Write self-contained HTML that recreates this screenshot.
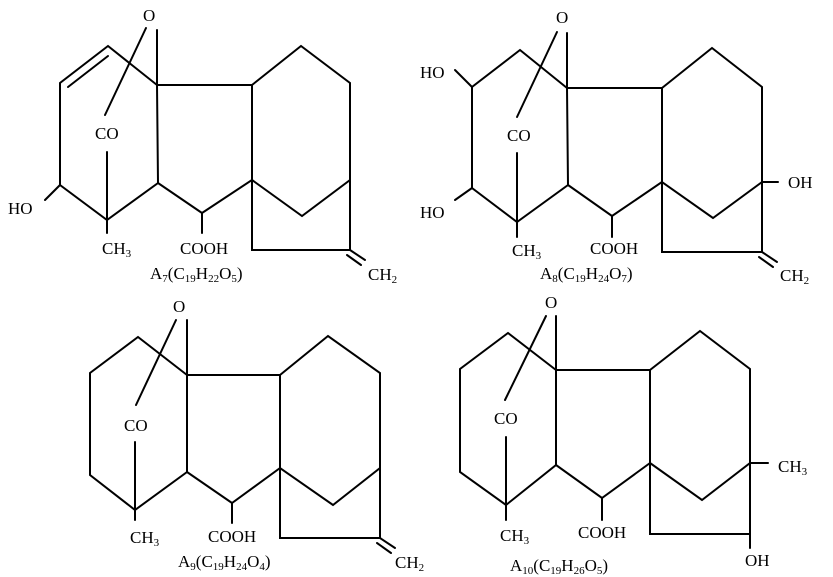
<!DOCTYPE html>
<html><head><meta charset="utf-8"><style>
html,body{margin:0;padding:0;background:#fff;}
svg{display:block;}
text{font-family:"Liberation Serif",serif;font-size:17px;fill:#000;}
.s{font-size:11px;}
</style></head><body>
<svg width="833" height="577" viewBox="0 0 833 577" xmlns="http://www.w3.org/2000/svg">
<g stroke="#000" stroke-width="2" fill="none" stroke-linecap="round">
<!-- A7 -->
<line x1="146" y1="28" x2="105" y2="115"/>
<line x1="157" y1="30" x2="157" y2="85"/>
<polyline points="157,85 108,46 60,83 60,185 107,220 158,183 157,85 252,85 252,180 202,213 158,183"/>
<line x1="68" y1="87" x2="108" y2="56"/>
<line x1="45" y1="200" x2="60" y2="185"/>
<line x1="107" y1="152" x2="107" y2="233"/>
<line x1="202" y1="213" x2="202" y2="233"/>
<polyline points="252,85 301,46 350,83 350,180 302,216 252,180 252,250 350,250 350,180"/>
<line x1="350" y1="250" x2="365" y2="260"/>
<line x1="347" y1="255" x2="361" y2="265"/>
<!-- A8 -->
<line x1="557" y1="32" x2="517" y2="117"/>
<line x1="567" y1="33" x2="567" y2="88"/>
<polyline points="567,88 520,50 472,87 472,188 517,222 568,185 567,88 662,88 662,182 612,216 568,185"/>
<line x1="455" y1="70" x2="472" y2="87"/>
<line x1="455" y1="200" x2="472" y2="188"/>
<line x1="517" y1="153" x2="517" y2="237"/>
<line x1="612" y1="216" x2="612" y2="237"/>
<polyline points="662,88 712,48 762,87 762,182 713,218 662,182 662,252 762,252 762,182"/>
<line x1="762" y1="182" x2="778" y2="182"/>
<line x1="762" y1="252" x2="777" y2="262"/>
<line x1="759" y1="257" x2="773" y2="267"/>
<!-- A9 -->
<line x1="176" y1="320" x2="136" y2="405"/>
<line x1="187" y1="320" x2="187" y2="375"/>
<polyline points="187,375 138,337 90,373 90,475 135,510 187,472 187,375 280,375 280,468 232,503 187,472"/>
<line x1="135" y1="442" x2="135" y2="520"/>
<line x1="232" y1="503" x2="232" y2="523"/>
<polyline points="280,375 328,336 380,373 380,468 333,505 280,468 280,538 380,538 380,468"/>
<line x1="380" y1="538" x2="395" y2="548"/>
<line x1="377" y1="543" x2="391" y2="553"/>
<!-- A10 -->
<line x1="546" y1="316" x2="505" y2="400"/>
<line x1="556" y1="316" x2="556" y2="370"/>
<polyline points="556,370 508,333 460,369 460,472 506,505 556,465 556,370 650,370 650,463 602,498 556,465"/>
<line x1="506" y1="437" x2="506" y2="520"/>
<line x1="602" y1="498" x2="602" y2="520"/>
<polyline points="650,370 700,331 750,369 750,463 702,500 650,463 650,534 750,534 750,463"/>
<line x1="750" y1="463" x2="768" y2="463"/>
<line x1="750" y1="534" x2="750" y2="548"/>
</g>
<!-- A7 text -->
<text x="143" y="21">O</text>
<text x="95" y="139">CO</text>
<text x="8" y="214">HO</text>
<text x="102" y="254">CH<tspan class="s" dy="3">3</tspan></text>
<text x="180" y="254">COOH</text>
<text x="368" y="280">CH<tspan class="s" dy="3">2</tspan></text>
<text x="150" y="279">A<tspan class="s" dy="3">7</tspan><tspan dy="-3">(C</tspan><tspan class="s" dy="3">19</tspan><tspan dy="-3">H</tspan><tspan class="s" dy="3">22</tspan><tspan dy="-3">O</tspan><tspan class="s" dy="3">5</tspan><tspan dy="-3">)</tspan></text>
<!-- A8 text -->
<text x="556" y="23">O</text>
<text x="507" y="141">CO</text>
<text x="420" y="78">HO</text>
<text x="420" y="218">HO</text>
<text x="788" y="188">OH</text>
<text x="512" y="256">CH<tspan class="s" dy="3">3</tspan></text>
<text x="590" y="254">COOH</text>
<text x="780" y="281">CH<tspan class="s" dy="3">2</tspan></text>
<text x="540" y="279">A<tspan class="s" dy="3">8</tspan><tspan dy="-3">(C</tspan><tspan class="s" dy="3">19</tspan><tspan dy="-3">H</tspan><tspan class="s" dy="3">24</tspan><tspan dy="-3">O</tspan><tspan class="s" dy="3">7</tspan><tspan dy="-3">)</tspan></text>
<!-- A9 text -->
<text x="173" y="312">O</text>
<text x="124" y="431">CO</text>
<text x="130" y="543">CH<tspan class="s" dy="3">3</tspan></text>
<text x="208" y="542">COOH</text>
<text x="395" y="568">CH<tspan class="s" dy="3">2</tspan></text>
<text x="178" y="567">A<tspan class="s" dy="3">9</tspan><tspan dy="-3">(C</tspan><tspan class="s" dy="3">19</tspan><tspan dy="-3">H</tspan><tspan class="s" dy="3">24</tspan><tspan dy="-3">O</tspan><tspan class="s" dy="3">4</tspan><tspan dy="-3">)</tspan></text>
<!-- A10 text -->
<text x="545" y="308">O</text>
<text x="494" y="424">CO</text>
<text x="500" y="541">CH<tspan class="s" dy="3">3</tspan></text>
<text x="578" y="538">COOH</text>
<text x="778" y="472">CH<tspan class="s" dy="3">3</tspan></text>
<text x="745" y="566">OH</text>
<text x="510" y="571">A<tspan class="s" dy="3">10</tspan><tspan dy="-3">(C</tspan><tspan class="s" dy="3">19</tspan><tspan dy="-3">H</tspan><tspan class="s" dy="3">26</tspan><tspan dy="-3">O</tspan><tspan class="s" dy="3">5</tspan><tspan dy="-3">)</tspan></text>
</svg>
</body></html>
